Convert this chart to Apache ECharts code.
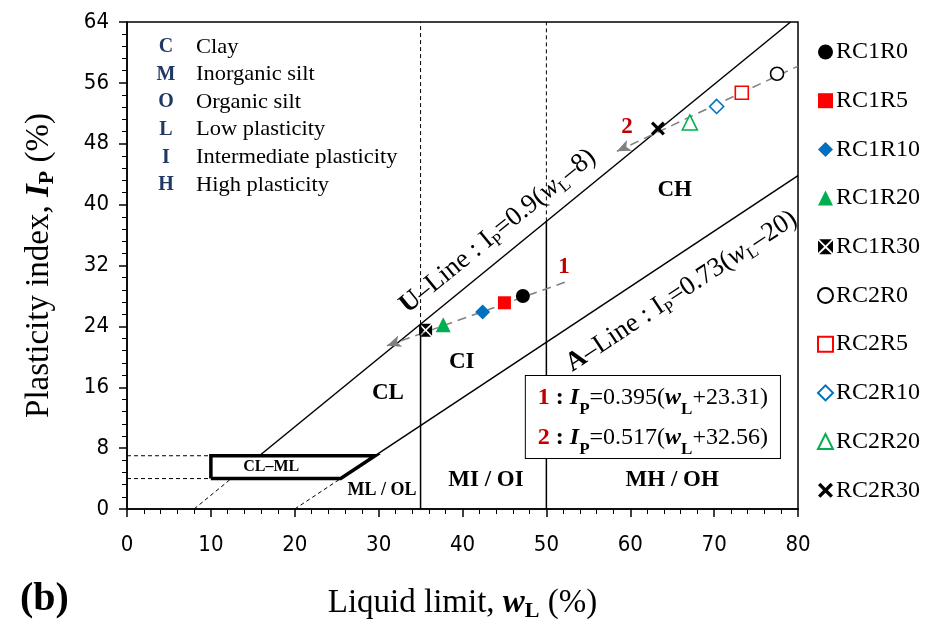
<!DOCTYPE html>
<html><head><meta charset="utf-8">
<script src="https://cdn.jsdelivr.net/npm/echarts@6/dist/echarts.min.js"></script>
<style>html,body{margin:0;padding:0;background:#fff}#c{width:936px;height:629px}</style>
</head><body><div id="c"></div>
<script>
// ---- data ----
const seriesNames = ['RC1R0','RC1R5','RC1R10','RC1R20','RC1R30','RC2R0','RC2R5','RC2R10','RC2R20','RC2R30'];
const rc1WL = [47.2, 45.0, 42.4, 37.7, 35.6];
const rc1IP = [28.0, 27.1, 25.9, 24.2, 23.5];
const rc2WL = [77.5, 73.3, 70.3, 67.1, 63.3];
const rc2IP = [57.2, 54.7, 52.9, 50.8, 50.0];
const trend1 = [[31.0, 21.45], [52.2, 29.8]];
const trend2 = [[58.4, 47.0], [80.0, 58.2]];
const uLineDashed = [[8, 0], [12.44, 4]];
const uLineSolid = [[15.78, 7], [79.11, 64]];
const aLineDashed = [[20, 0], [25.48, 4]];
const aLineSolid = [[29.59, 7], [80, 43.8]];
const clmlBox = [[10, 4], [25.48, 4], [29.59, 7], [10, 7], [10, 4]];
const leftDash7 = [[0, 7], [10, 7]];
const leftDash4 = [[0, 4], [10, 4]];
const v35Dashed = [[35, 24.3], [35, 64]];
const v35Solid = [[35, 0], [35, 24.3]];
const v50Dashed = [[50, 37.8], [50, 64]];
const v50Solid = [[50, 0], [50, 37.8]];
const xTicks = {min: 0, max: 80, interval: 10};
const yTicks = {min: 0, max: 64, interval: 8};
const keyLetters = ['C','M','O','L','I','H'];
const keyTexts = ['Clay','Inorganic silt','Organic silt','Low plasticity','Intermediate plasticity','High plasticity'];

const SERIF = '"Liberation Serif","Times New Roman",serif';
const NARROW = '"Liberation Sans Narrow","Arial Narrow","DejaVu Sans Condensed","Liberation Sans",sans-serif';

const xPath = 'path://M0,1.6 L1.6,0 L5,3.4 L8.4,0 L10,1.6 L6.6,5 L10,8.4 L8.4,10 L5,6.6 L1.6,10 L0,8.4 L3.4,5 Z';
const bowPath = 'path://M0.8,0 L9.2,0 L5,4.1 Z M10,0.8 L10,9.2 L5.9,5 Z M0.8,10 L9.2,10 L5,5.9 Z M0,0.8 L0,9.2 L4.1,5 Z';

const styles = [
  {symbol:'circle', size:14, color:'#000', fill:true},
  {symbol:'rect', size:13, color:'#ff0000', fill:true},
  {symbol:'diamond', size:15, color:'#0070c0', fill:true},
  {symbol:'triangle', size:15, color:'#00b050', fill:true},
  {symbol:bowPath, size:13, color:'#000', fill:true},
  {symbol:'circle', size:13, color:'#000', fill:false},
  {symbol:'rect', size:13, color:'#ff0000', fill:false},
  {symbol:'diamond', size:14, color:'#0070c0', fill:false},
  {symbol:'triangle', size:15, color:'#00b050', fill:false},
  {symbol:xPath, size:14, color:'#000', fill:true}
];

function seg(data, opt) {
  return Object.assign({
    type: 'line', data: data, symbol: 'none', silent: true, z: 2,
    lineStyle: {color: '#000', width: 1.5}, animation: false
  }, opt || {});
}
const dashStyle = {color: '#000', width: 1, type: [4, 3]};

const series = [];
series.push(seg(uLineDashed, {lineStyle: dashStyle}));
series.push(seg(uLineSolid));
series.push(seg(aLineDashed, {lineStyle: dashStyle}));
series.push(seg(aLineSolid));
series.push(seg(clmlBox, {lineStyle: {color: '#000', width: 3.5, join: 'miter'}}));
series.push(seg(leftDash7, {lineStyle: dashStyle}));
series.push(seg(leftDash4, {lineStyle: dashStyle}));
series.push(seg(v35Dashed, {lineStyle: dashStyle}));
series.push(seg(v35Solid));
series.push(seg(v50Dashed, {lineStyle: dashStyle}));
series.push(seg(v50Solid));

// trend lines with arrows
series.push({
  type: 'scatter', data: [], silent: true, animation: false,
  markLine: {
    silent: true, animation: false, symbol: ['arrow', 'none'], symbolSize: [9, 14],
    label: {show: false},
    lineStyle: {color: '#808080', width: 1.5, type: [9, 6]},
    data: [
      [{coord: trend1[0]}, {coord: trend1[1]}],
      [{coord: trend2[0]}, {coord: trend2[1]}]
    ]
  }
});

// points
for (let i = 0; i < 10; i++) {
  const s = styles[i];
  const x = i < 5 ? rc1WL[i] : rc2WL[i - 5];
  const y = i < 5 ? rc1IP[i] : rc2IP[i - 5];
  series.push({
    name: seriesNames[i], type: 'scatter', z: 5, animation: false,
    symbol: s.symbol, symbolSize: s.size,
    data: [[x, y]],
    itemStyle: s.fill ? {color: s.color, opacity: 1} :
      {color: '#ffffff', borderColor: s.color, borderWidth: 1.6, opacity: 1}
  });
}

function mkRich(fs, lh, subFs) {
  return {
    n: {fontFamily: SERIF, fontSize: fs, color: '#000', fontWeight: 'normal', fontStyle: 'normal', lineHeight: lh},
    b: {fontFamily: SERIF, fontSize: fs, color: '#000', fontWeight: 'bold', fontStyle: 'normal', lineHeight: lh},
    bi: {fontFamily: SERIF, fontSize: fs, color: '#000', fontWeight: 'bold', fontStyle: 'italic', lineHeight: lh},
    i: {fontFamily: SERIF, fontSize: fs, color: '#000', fontWeight: 'normal', fontStyle: 'italic', lineHeight: lh},
    sub: {fontFamily: SERIF, fontSize: subFs, color: '#000', fontWeight: 'bold', fontStyle: 'normal', lineHeight: subFs, verticalAlign: 'bottom'},
    subn: {fontFamily: SERIF, fontSize: subFs, color: '#000', fontWeight: 'normal', fontStyle: 'normal', lineHeight: subFs, verticalAlign: 'bottom'},
    r: {fontFamily: SERIF, fontSize: fs, color: '#c00000', fontWeight: 'bold', fontStyle: 'normal', lineHeight: lh}
  };
}

function annot(x, y, text, extra) {
  return {
    value: [x, y],
    label: Object.assign({
      show: true, position: 'inside', formatter: text,
      fontFamily: SERIF, fontSize: 23, fontWeight: 'bold', color: '#000',
      textBorderWidth: 0, opacity: 1,
      align: 'center', verticalAlign: 'middle', rich: mkRich(23, 28, 16)
    }, extra || {})
  };
}

const eqRich = mkRich(24, 40, 17);
eqRich.sub.lineHeight = 27;

series.push({
  type: 'scatter', symbolSize: 0, silent: true, z: 6, animation: false,
  itemStyle: {color: '#000', opacity: 1},
  data: [
    annot(31.1, 15.2, 'CL'),
    annot(39.9, 19.3, 'CI'),
    annot(65.3, 41.9, 'CH'),
    annot(17.2, 5.55, 'CL–ML', {fontSize: 16}),
    annot(30.4, 2.4, 'ML / OL', {fontSize: 18}),
    annot(42.8, 3.8, 'MI / OI'),
    annot(65.0, 3.8, 'MH / OH'),
    annot(52.1, 31.8, '1', {color: '#c00000'}),
    annot(59.6, 50.2, '2', {color: '#c00000'}),
    annot(44.2, 36.5, '{b|U}{n|–Line : I}{subn|P}{n|=0.9(}{i|w}{subn|L}{n|–8)}', {rotate: 39.2, rich: mkRich(27, 32, 17)}),
    annot(66.1, 28.6, '{b|A}{n|–Line : I}{subn|P}{n|=0.73(}{i|w}{subn|L}{n|–20)}', {rotate: 33.5, rich: mkRich(27, 32, 17)}),
    annot(62.7, 12.1,
      '{r|1}{b| : }{bi|I}{sub|P}{n|=0.395(}{bi|w}{sub|L}{n|+23.31)}\n{r|2}{b| : }{bi|I}{sub|P}{n|=0.517(}{bi|w}{sub|L}{n|+32.56)}',
      {backgroundColor: '#fff', borderColor: '#000', borderWidth: 1, padding: [2, 12, 0, 12], lineHeight: 40, rich: eqRich})
  ]
});

const graphics = [];
const keyTop = 47, keyStep = 27.6;
for (let i = 0; i < keyLetters.length; i++) {
  graphics.push({type: 'text', x: 166, y: keyTop + i * keyStep, silent: true, z: 10,
    style: {text: keyLetters[i], font: 'bold 20px ' + SERIF, fill: '#1f3864', align: 'center', verticalAlign: 'middle'}});
  graphics.push({type: 'text', x: 196, y: keyTop + i * keyStep, silent: true, z: 10, scaleX: 1.07,
    style: {text: keyTexts[i], font: '21px ' + SERIF, fill: '#000', align: 'left', verticalAlign: 'middle'}});
}
graphics.push({type: 'text', x: 20, y: 600, silent: true,
  style: {text: '(b)', font: 'bold 40px ' + SERIF, fill: '#000', align: 'left', verticalAlign: 'middle'}});

const nameRichY = mkRich(33, 38, 22);
const nameRichX = mkRich(33, 38, 22);

const option = {
  backgroundColor: '#fff',
  animation: false,
  grid: {left: 127, right: 138, top: 22, bottom: 120, show: true, borderColor: '#000', borderWidth: 1.5, containLabel: false},
  xAxis: {
    type: 'value', min: xTicks.min, max: xTicks.max, interval: xTicks.interval,
    splitLine: {show: false},
    axisLine: {show: true, onZero: false, lineStyle: {color: '#000', width: 1.5}},
    axisTick: {show: true, length: 8, lineStyle: {color: '#000', width: 1.5}},
    minorTick: {show: true, splitNumber: 5, length: 5, lineStyle: {color: '#000', width: 1}},
    axisLabel: {fontFamily: NARROW, fontSize: 22, color: '#000', margin: 25},
    name: '{n|Liquid limit, }{bi|w}{sub|L}{n| (%)}', nameLocation: 'middle', nameGap: 75,
    nameTextStyle: {rich: nameRichX}
  },
  yAxis: {
    type: 'value', min: yTicks.min, max: yTicks.max, interval: yTicks.interval,
    splitLine: {show: false},
    axisLine: {show: true, onZero: false, lineStyle: {color: '#000', width: 1.5}},
    axisTick: {show: true, length: 8, lineStyle: {color: '#000', width: 1.5}},
    minorTick: {show: true, splitNumber: 5, length: 5, lineStyle: {color: '#000', width: 1}},
    axisLabel: {fontFamily: NARROW, fontSize: 22, color: '#000', margin: 18},
    name: '{n|Plasticity index, }{bi|I}{sub|P}{n| (%)}', nameLocation: 'middle', nameGap: 69, nameRotate: 90,
    nameTextStyle: {rich: nameRichY}
  },
  legend: {
    data: seriesNames, orient: 'vertical', left: 812, top: 35,
    itemWidth: 15, itemHeight: 15, itemGap: 24.7,
    textStyle: {fontFamily: SERIF, fontSize: 24, color: '#000', padding: [0, 0, 0, -2]},
    selectedMode: false
  },
  graphic: graphics,
  series: series
};

const chart = echarts.init(document.getElementById('c'), null, {renderer: 'canvas'});
chart.setOption(option);
</script>
</body></html>
